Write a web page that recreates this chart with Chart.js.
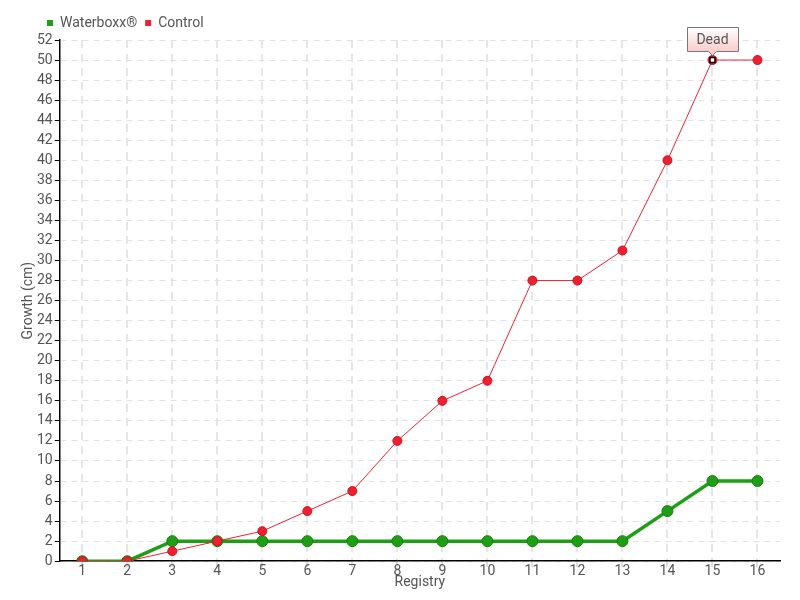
<!DOCTYPE html>
<html>
<head>
<meta charset="utf-8">
<script src="https://cdn.jsdelivr.net/npm/chart.js@4/dist/chart.umd.min.js"></script>
<style>
  body { margin: 0; background: #fff; }
  #wrap { width: 800px; height: 600px; }
</style>
</head>
<body>
<div id="wrap"><canvas id="growthChart"></canvas></div>
<script>
// data
const registry = ['1','2','3','4','5','6','7','8','9','10','11','12','13','14','15','16'];
const waterboxx = [0, 0, 2, 2, 2, 2, 2, 2, 2, 2, 2, 2, 2, 5, 8, 8];
const control = [0, 0, 1, 2, 3, 5, 7, 12, 16, 18, 28, 28, 31, 40, 50, 50];
const deadIndex = 14;
const deadLabel = 'Dead';

const FONT = 'Roboto, "Liberation Sans", sans-serif';
Chart.defaults.font.family = FONT;
Chart.defaults.font.size = 14;
Chart.defaults.color = '#555';

// push the legend a little to the right, like the original
const legendShift = {
  id: 'legendShift',
  afterLayout(chart) {
    chart.legend.left += 18;
  }
};

// "Dead" callout above one control point
const deadNote = {
  id: 'deadNote',
  afterDatasetsDraw(chart) {
    const pt = chart.getDatasetMeta(1).data[deadIndex];
    if (!pt) return;
    const c = chart.ctx;
    const x = pt.x, y = pt.y;

    // marker
    c.save();
    c.fillStyle = '#fff';
    c.strokeStyle = '#000';
    c.lineWidth = 1.5;
    c.beginPath();
    c.rect(x - 2.5, y - 2.5, 5, 5);
    c.fill();
    c.stroke();

    // box
    const w = 51, h = 24;
    const bx = Math.round(x - w / 2) + 0.5, by = Math.round(y - 33) + 0.5;
    const g = c.createLinearGradient(0, by, 0, by + h);
    g.addColorStop(0, '#ffffff');
    g.addColorStop(1, '#f9cccc');
    c.beginPath();
    c.moveTo(bx, by);
    c.lineTo(bx + w, by);
    c.lineTo(bx + w, by + h);
    c.lineTo(x + 4, by + h);
    c.lineTo(x, by + h + 4);
    c.lineTo(x - 4, by + h);
    c.lineTo(bx, by + h);
    c.closePath();
    c.fillStyle = g;
    c.fill();
    c.strokeStyle = '#777';
    c.lineWidth = 1;
    c.stroke();

    c.fillStyle = '#555';
    c.font = '14px ' + FONT;
    c.textAlign = 'center';
    c.textBaseline = 'middle';
    c.fillText(deadLabel, x, by + h / 2 + 1);
    c.restore();
  }
};

new Chart(document.getElementById('growthChart'), {
  type: 'line',
  data: {
    labels: registry,
    datasets: [
      {
        label: 'Waterboxx®',
        data: waterboxx,
        borderColor: '#1e9e14',
        backgroundColor: '#1e9e14',
        pointBackgroundColor: '#1e9e14',
        pointBorderColor: '#187f10',
        pointBorderWidth: 1,
        borderWidth: 3.5,
        pointRadius: 5.5,
        tension: 0,
        order: 2
      },
      {
        label: 'Control',
        data: control,
        borderColor: '#ee2233',
        backgroundColor: '#ee2233',
        pointBackgroundColor: '#ee1f2f',
        pointBorderColor: '#c81522',
        pointBorderWidth: 1,
        borderWidth: 1,
        pointRadius: 4.5,
        tension: 0,
        order: 1
      }
    ]
  },
  options: {
    responsive: true,
    maintainAspectRatio: false,
    animation: false,
    layout: { padding: { left: 21, right: 20, top: 8, bottom: 11 } },
    plugins: {
      legend: {
        position: 'top',
        align: 'start',
        labels: {
          boxWidth: 6,
          boxHeight: 6,
          padding: 8,
          color: '#555',
          sort: (a, b) => a.datasetIndex - b.datasetIndex,
          generateLabels(chart) {
            const items = Chart.defaults.plugins.legend.labels.generateLabels(chart);
            items.forEach(it => { it.lineWidth = 0; });
            return items;
          }
        }
      },
      tooltip: { enabled: false }
    },
    scales: {
      x: {
        offset: true,
        title: { display: true, text: 'Registry', padding: { top: -1, bottom: 0 }, font: { lineHeight: 1 } },
        grid: {
          color: '#e6e6e6',
          lineWidth: 2,
          tickColor: '#bbb',
          tickLength: 6,
          tickWidth: 1
        },
        border: { color: '#000', width: 1.5, dash: [8, 6] },
        ticks: { padding: -4, color: '#555' }
      },
      y: {
        min: 0,
        max: 52,
        title: { display: true, text: 'Growth (cm)', padding: 0, font: { lineHeight: 1 } },
        grid: {
          color: '#e2e2e2',
          tickColor: '#000',
          tickLength: 5,
          lineWidth: 1
        },
        border: { color: '#000', width: 1.5, dash: [6, 5] },
        ticks: { stepSize: 2, padding: 2, color: '#555', autoSkip: false }
      }
    }
  },
  plugins: [legendShift, deadNote]
});
</script>
</body>
</html>
